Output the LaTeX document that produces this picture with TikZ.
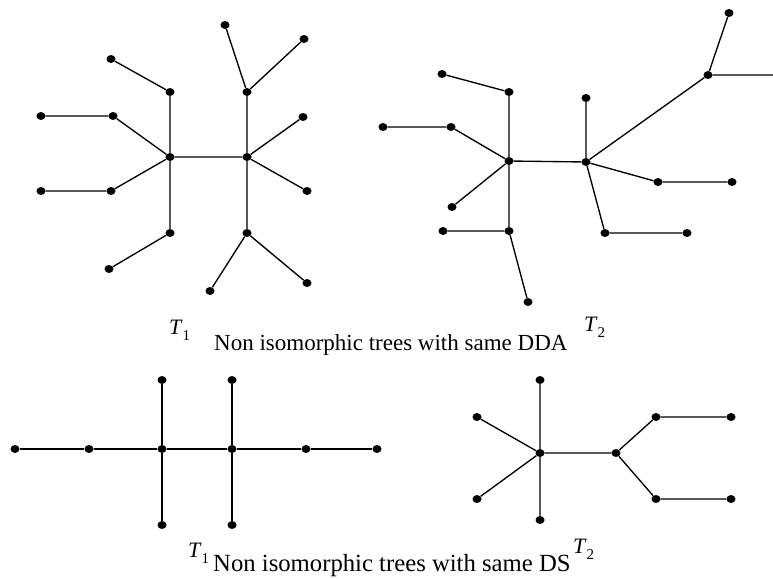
\documentclass[tikz,border=0pt]{standalone}
\usepackage{fontspec}
\setmainfont{Liberation Serif}
\usetikzlibrary{shapes.geometric}
\begin{document}
\begin{tikzpicture}[x=1pt,y=-1pt,
  v/.style={shape=ellipse,fill=black,inner sep=0pt,minimum width=9pt,minimum height=8pt},
  e/.style={line width=1.35pt},
  lbla/.style={font=\fontsize{23}{26}\selectfont,inner sep=0pt,anchor=base west},
  lblb/.style={font=\fontsize{24.7}{28}\selectfont,inner sep=0pt,anchor=base west},
  tl/.style={font=\fontsize{22}{26}\selectfont,inner sep=0pt,anchor=base west}]
\newcommand{\tlab}[1]{\textit{T}\raisebox{-0.28em}{\fontsize{15}{17}\selectfont #1}}
\useasboundingbox (0,0) rectangle (773,578);
% ---- Top T1
\node[v] (a) at (170,157) {};
\node[v] (b) at (247,157) {};
\node[v] (a1) at (170,92) {};
\node[v] (a1l) at (111,59) {};
\node[v] (a2) at (113,116) {};
\node[v] (a2l) at (41,116) {};
\node[v] (a3) at (111,191) {};
\node[v] (a3l) at (41,191) {};
\node[v] (a4) at (170,233) {};
\node[v] (a4l) at (109,269) {};
\node[v] (b1) at (247,92) {};
\node[v] (b1a) at (225,25) {};
\node[v] (b1b) at (304,39) {};
\node[v] (b2) at (303,117) {};
\node[v] (b3) at (307,191) {};
\node[v] (b4) at (247,233) {};
\node[v] (b4a) at (210,291) {};
\node[v] (b4b) at (307,283) {};
\draw[e] (a)--(b) (a)--(a1)--(a1l) (a)--(a2)--(a2l) (a)--(a3)--(a3l) (a)--(a4)--(a4l)
  (b)--(b1)--(b1a) (b1)--(b1b) (b)--(b2) (b)--(b3) (b)--(b4)--(b4a) (b4)--(b4b);
% ---- Top T2
\node[v] (c) at (509,161) {};
\node[v] (d) at (586,162) {};
\node[v] (c1) at (509,92) {};
\node[v] (c1l) at (442,74) {};
\node[v] (c2) at (451,127) {};
\node[v] (c2l) at (383,127) {};
\node[v] (c3) at (452,207) {};
\node[v] (c4) at (509,231) {};
\node[v] (c4l) at (443,231) {};
\node[v] (c4d) at (528,302) {};
\node[v] (d1) at (586,98) {};
\node[v] (d2) at (708,75) {};
\node[v] (d2a) at (729,13) {};
\coordinate (d2r) at (773,75);
\node[v] (d3) at (658,182) {};
\node[v] (d3l) at (732,182) {};
\node[v] (d4) at (605,233) {};
\node[v] (d4l) at (687,233) {};
\draw[e] (c)--(d) (c)--(c1)--(c1l) (c)--(c2)--(c2l) (c)--(c3) (c)--(c4)--(c4l) (c4)--(c4d)
  (d)--(d1) (d)--(d2)--(d2a) (d2)--(d2r) (d)--(d3)--(d3l) (d)--(d4)--(d4l);
% ---- Top labels
\node[tl] (t1a) at (169,334) {\tlab{1}};
\node[lbla] (capa) at (214,350) {Non isomorphic trees with same DDA};
\node[tl] (t2a) at (584,331) {\tlab{2}};
% ---- Bottom T1
\node[v] (p1) at (15,449) {};
\node[v] (p2) at (89,449) {};
\node[v] (p3) at (162,449) {};
\node[v] (p4) at (232,449) {};
\node[v] (p5) at (306,449) {};
\node[v] (p6) at (377,449) {};
\node[v] (p3u) at (162,380) {};
\node[v] (p3d) at (162,525) {};
\node[v] (p4u) at (232,380) {};
\node[v] (p4d) at (232,525) {};
\draw[e] (p1)--(p2)--(p3)--(p4)--(p5)--(p6) (p3u)--(p3)--(p3d) (p4u)--(p4)--(p4d);
% ---- Bottom T2
\node[v] (q) at (540,453) {};
\node[v] (qu) at (540,380) {};
\node[v] (qd) at (540,520) {};
\node[v] (qa) at (477,417) {};
\node[v] (qb) at (477,499) {};
\node[v] (r) at (616,453) {};
\node[v] (ru) at (656,417) {};
\node[v] (rul) at (731,417) {};
\node[v] (rd) at (656,499) {};
\node[v] (rdl) at (731,499) {};
\draw[e] (q)--(r) (qu)--(q)--(qd) (q)--(qa) (q)--(qb) (r)--(ru)--(rul) (r)--(rd)--(rdl);
% ---- Bottom labels
\node[tl] (t1b) at (188,557) {\tlab{1}};
\node[lblb] (capb) at (213,571) {Non isomorphic trees with same DS};
\node[tl] (t2b) at (573,553) {\tlab{2}};
\end{tikzpicture}
\end{document}
